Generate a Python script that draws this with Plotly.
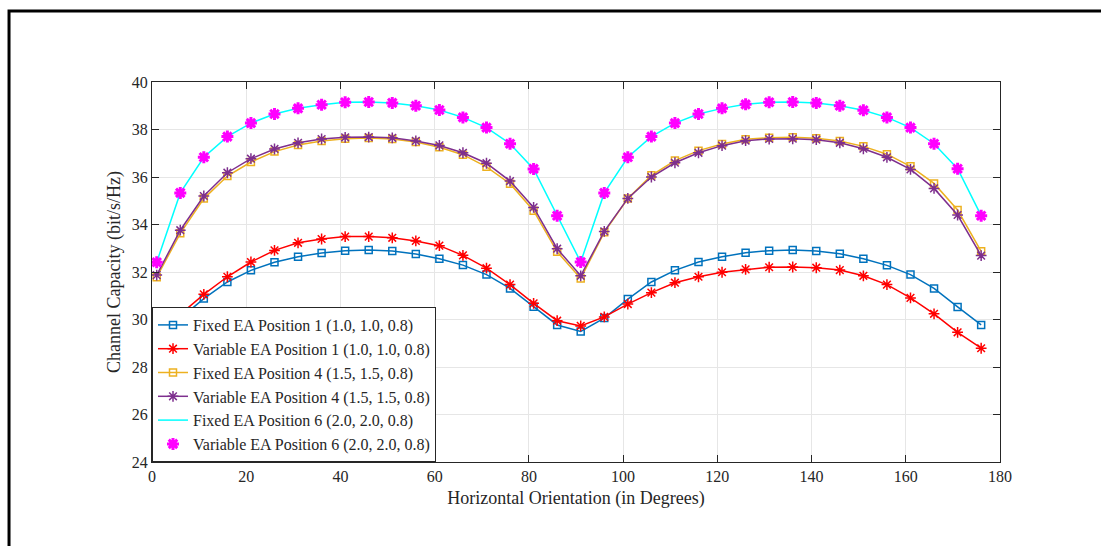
import plotly.graph_objects as go

angles = list(range(1, 180, 5))  # 1, 6, ..., 176

fixed_1 = [29.52, 30.05, 30.88, 31.58, 32.07, 32.41, 32.64, 32.80, 32.90, 32.93, 32.88, 32.76, 32.56, 32.29, 31.89,
           31.31, 30.54, 29.77, 29.50, 30.06, 30.86, 31.58, 32.07, 32.42, 32.64, 32.81, 32.90, 32.93, 32.88, 32.77,
           32.56, 32.28, 31.89, 31.31, 30.53, 29.77]
var_1 = [29.74, 30.22, 31.06, 31.80, 32.42, 32.91, 33.23, 33.39, 33.49, 33.49, 33.44, 33.31, 33.11, 32.70, 32.16,
         31.47, 30.68, 29.95, 29.73, 30.11, 30.65, 31.13, 31.55, 31.80, 31.99, 32.11, 32.20, 32.21, 32.18, 32.08,
         31.84, 31.47, 30.91, 30.24, 29.46, 28.79]
fixed_4 = [31.78, 33.63, 35.09, 36.04, 36.63, 37.07, 37.35, 37.52, 37.61, 37.64, 37.60, 37.47, 37.25, 36.94, 36.43,
           35.72, 34.58, 32.85, 31.73, 33.67, 35.09, 36.07, 36.69, 37.11, 37.39, 37.59, 37.65, 37.67, 37.63, 37.52,
           37.29, 36.96, 36.45, 35.73, 34.61, 32.87]
var_4 = [31.87, 33.76, 35.20, 36.18, 36.77, 37.18, 37.44, 37.60, 37.67, 37.68, 37.65, 37.52, 37.33, 37.02, 36.58,
         35.83, 34.72, 32.98, 31.84, 33.71, 35.10, 36.00, 36.60, 37.02, 37.32, 37.53, 37.60, 37.61, 37.57, 37.44,
         37.19, 36.83, 36.32, 35.52, 34.40, 32.69]
fixed_6 = [32.41, 35.33, 36.83, 37.70, 38.27, 38.65, 38.89, 39.04, 39.15, 39.16, 39.12, 39.00, 38.82, 38.51, 38.08,
           37.40, 36.34, 34.37, 32.42, 35.33, 36.83, 37.70, 38.27, 38.65, 38.89, 39.06, 39.15, 39.16, 39.12, 39.00,
           38.81, 38.51, 38.08, 37.40, 36.35, 34.37]
var_6 = list(fixed_6)

x_ticks = [0, 20, 40, 60, 80, 100, 120, 140, 160, 180]
y_ticks = [24, 26, 28, 30, 32, 34, 36, 38, 40]

FONT = "Liberation Serif, Times New Roman, serif"
INK = "#262626"

fig = go.Figure()
fig.add_trace(go.Scatter(x=angles, y=fixed_1, mode="lines+markers", name="Fixed EA Position 1 (1.0, 1.0, 0.8)",
                         line=dict(color="#0072BD", width=1.5),
                         marker=dict(symbol="square-open", size=7, color="#0072BD", line=dict(width=1.5))))
fig.add_trace(go.Scatter(x=angles, y=var_1, mode="lines+markers", name="Variable EA Position 1 (1.0, 1.0, 0.8)",
                         line=dict(color="#FF0000", width=1.5),
                         marker=dict(symbol="asterisk-open", size=9, color="#FF0000", line=dict(width=1.5, color="#FF0000"))))
fig.add_trace(go.Scatter(x=angles, y=fixed_4, mode="lines+markers", name="Fixed EA Position 4 (1.5, 1.5, 0.8)",
                         line=dict(color="#EDB120", width=1.5),
                         marker=dict(symbol="square-open", size=7, color="#EDB120", line=dict(width=1.5))))
fig.add_trace(go.Scatter(x=angles, y=var_4, mode="lines+markers", name="Variable EA Position 4 (1.5, 1.5, 0.8)",
                         line=dict(color="#7E2F8E", width=1.5),
                         marker=dict(symbol="asterisk-open", size=9, color="#7E2F8E", line=dict(width=1.5, color="#7E2F8E"))))
fig.add_trace(go.Scatter(x=angles, y=fixed_6, mode="lines", name="Fixed EA Position 6 (2.0, 2.0, 0.8)",
                         line=dict(color="#00FFFF", width=1.5)))
fig.add_trace(go.Scatter(x=angles, y=var_6, mode="markers", name="Variable EA Position 6 (2.0, 2.0, 0.8)",
                         marker=dict(symbol="asterisk-open", size=10, color="#FF00FF", line=dict(width=3, color="#FF00FF"))))

axis_common = dict(
    showline=True, linecolor=INK, linewidth=1, mirror="allticks",
    ticks="inside", ticklen=7, tickcolor=INK,
    showgrid=True, gridcolor="#E6E6E6", gridwidth=1, zeroline=False,
    tickfont=dict(family=FONT, size=16, color=INK),
)

fig.update_xaxes(range=[0, 180], tickvals=x_ticks, ticktext=[str(v) for v in x_ticks],
                 title=dict(text="Horizontal Orientation (in Degrees)", font=dict(family=FONT, size=18, color=INK),
                            standoff=7),
                 **axis_common)
fig.update_yaxes(range=[24, 40], tickvals=y_ticks, ticktext=[str(v) for v in y_ticks],
                 title=dict(text="Channel Capacity (bit/s/Hz)", font=dict(family=FONT, size=18, color=INK),
                            standoff=6),
                 **axis_common)

# outer frame (top and left black border visible in the picture)
fig.add_shape(type="rect", xref="paper", yref="paper",
              x0=-0.1686, x1=1.13, y0=-0.24, y1=1.1868,
              line=dict(color="black", width=3), layer="above")

fig.update_layout(
    width=1101, height=546,
    margin=dict(l=152, r=101, t=82, b=84),
    paper_bgcolor="white", plot_bgcolor="white",
    font=dict(family=FONT, size=16, color=INK),
    legend=dict(x=0, y=0, xanchor="left", yanchor="bottom",
                bgcolor="white", bordercolor=INK, borderwidth=1,
                font=dict(family=FONT, size=16, color=INK),
                tracegroupgap=0, itemwidth=30),
    showlegend=True,
)

fig.write_html("out.html")
